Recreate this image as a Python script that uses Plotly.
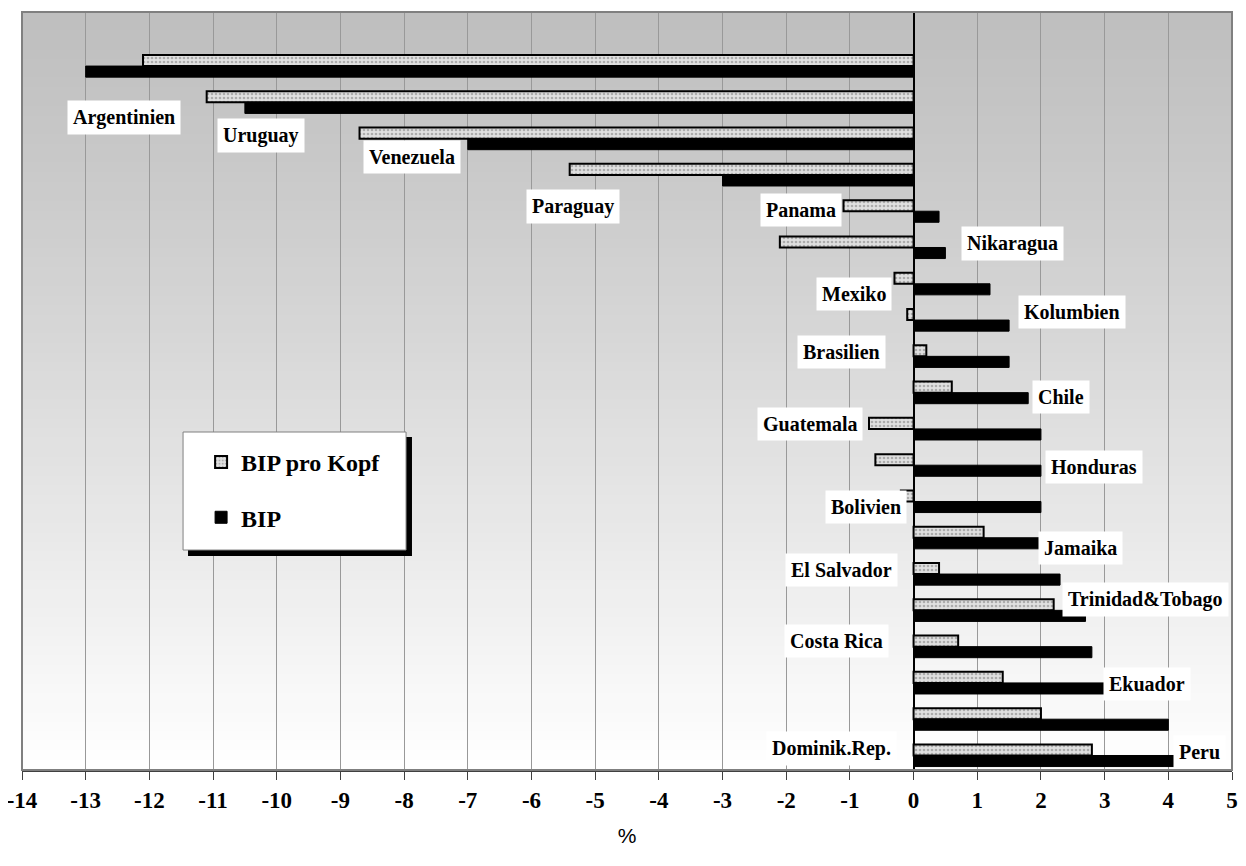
import plotly.graph_objects as go

countries = ["Argentinien", "Uruguay", "Venezuela", "Paraguay", "Panama", "Nikaragua",
             "Mexiko", "Kolumbien", "Brasilien", "Chile", "Guatemala", "Honduras",
             "Bolivien", "Jamaika", "El Salvador", "Trinidad&Tobago", "Costa Rica",
             "Ekuador", "Dominik.Rep.", "Peru"]
bip_pro_kopf = [-12.1, -11.1, -8.7, -5.4, -1.1, -2.1, -0.3, -0.1, 0.2, 0.6, -0.7, -0.6,
                -0.2, 1.1, 0.4, 2.2, 0.7, 1.4, 2.0, 2.8]
bip = [-13.0, -10.5, -7.0, -3.0, 0.4, 0.5, 1.2, 1.5, 1.5, 1.8, 2.0, 2.0,
       2.0, 2.0, 2.3, 2.7, 2.8, 3.0, 4.0, 4.1]
x_ticks = list(range(-14, 6))

# label placement (data units: x value, row offset)
label_x = [-12.4, -10.24, -7.88, -5.35, -1.77, 1.55, -0.93, 2.48, -1.13, 2.31, -1.62, 2.84,
           -0.74, 2.62, -1.13, 3.64, -1.21, 3.66, -1.29, 4.49]
label_y = [1.43, 1.90, 2.51, 3.86, 3.97, 4.88, 6.28, 6.78, 7.88, 9.12, 9.86, 11.05,
           12.15, 13.28, 13.89, 14.71, 15.84, 17.02, 18.82, 18.90]

rows = list(range(len(countries)))
serif = "Liberation Serif, Times New Roman, serif"

fig = go.Figure()
fig.add_trace(go.Bar(
    y=rows, x=bip_pro_kopf, orientation="h", name="BIP pro Kopf", legendgroup="a",
    marker=dict(color="#d8d8d8", line=dict(color="black", width=2),
                pattern=dict(shape=".", fgcolor="#777777", bgcolor="#e0e0e0", size=4, solidity=0.35)),
))
fig.add_trace(go.Bar(
    y=rows, x=bip, orientation="h", name="BIP", legendgroup="b",
    marker=dict(color="black", line=dict(color="black", width=1)),
))

shapes = []
# background gradient
n = 80
for i in range(n):
    t = i / (n - 1)
    g = int(round(191 + (255 - 191) * (t ** 1.15)))
    shapes.append(dict(type="rect", xref="paper", yref="paper",
                       x0=0, x1=1, y0=1 - (i + 1) / n, y1=1 - i / n + 0.001,
                       fillcolor=f"rgb({g},{g},{g})", line=dict(width=0), layer="below"))
# frame
shapes.append(dict(type="rect", xref="paper", yref="paper", x0=0, x1=1, y0=0, y1=1,
                   line=dict(color="#808080", width=2), layer="above"))
# legend box shadow + box
shapes.append(dict(type="rect", xref="paper", yref="paper", x0=0.1372, x1=0.3223, y0=0.2823, y1=0.4393,
                   fillcolor="black", line=dict(width=0), layer="above"))
shapes.append(dict(type="rect", xref="paper", yref="paper", x0=0.1331, x1=0.3174, y0=0.2902, y1=0.4459,
                   fillcolor="white", line=dict(color="#808080", width=1), layer="above"))

annotations = []
for name, lx, ly in zip(countries, label_x, label_y):
    annotations.append(dict(x=lx, y=ly, xref="x", yref="y", text=name, showarrow=False,
                            font=dict(family=serif, size=20, color="black", weight="bold"),
                            bgcolor="white", borderpad=5))

fig.update_layout(
    width=1246, height=866,
    margin=dict(l=14, r=22, t=4, b=104, autoexpand=False),
    paper_bgcolor="white", plot_bgcolor="rgba(0,0,0,0)",
    barmode="group", bargap=0.39, bargroupgap=0,
    shapes=shapes, annotations=annotations,
    showlegend=True,
    legend=dict(x=0.148, y=0.4354, xanchor="left", yanchor="top",
                bgcolor="rgba(0,0,0,0)", borderwidth=0, traceorder="grouped",
                tracegroupgap=21, itemwidth=30,
                font=dict(family=serif, size=24, color="black", weight="bold")),
    xaxis=dict(range=[-14, 5], tickvals=x_ticks, ticktext=[str(v) for v in x_ticks],
               automargin=False, ticklabeloverflow="allow",
               showgrid=True, gridcolor="#999999", gridwidth=1,
               zeroline=True, zerolinecolor="black", zerolinewidth=1.5,
               showline=True, linecolor="#404040", linewidth=2,
               ticks="outside", ticklen=8, tickcolor="#404040", tickwidth=1,
               ticklabelstandoff=0,
               tickfont=dict(family=serif, size=23, color="black", weight="bold"),
               title=dict(text="%", font=dict(family="Liberation Sans, Arial, sans-serif", size=21, color="black"),
                          standoff=17)),
    yaxis=dict(range=[19.4, -1.49], showgrid=False, zeroline=False, showticklabels=False,
               ticks="", automargin=False),
)

fig.write_html("out.html")
